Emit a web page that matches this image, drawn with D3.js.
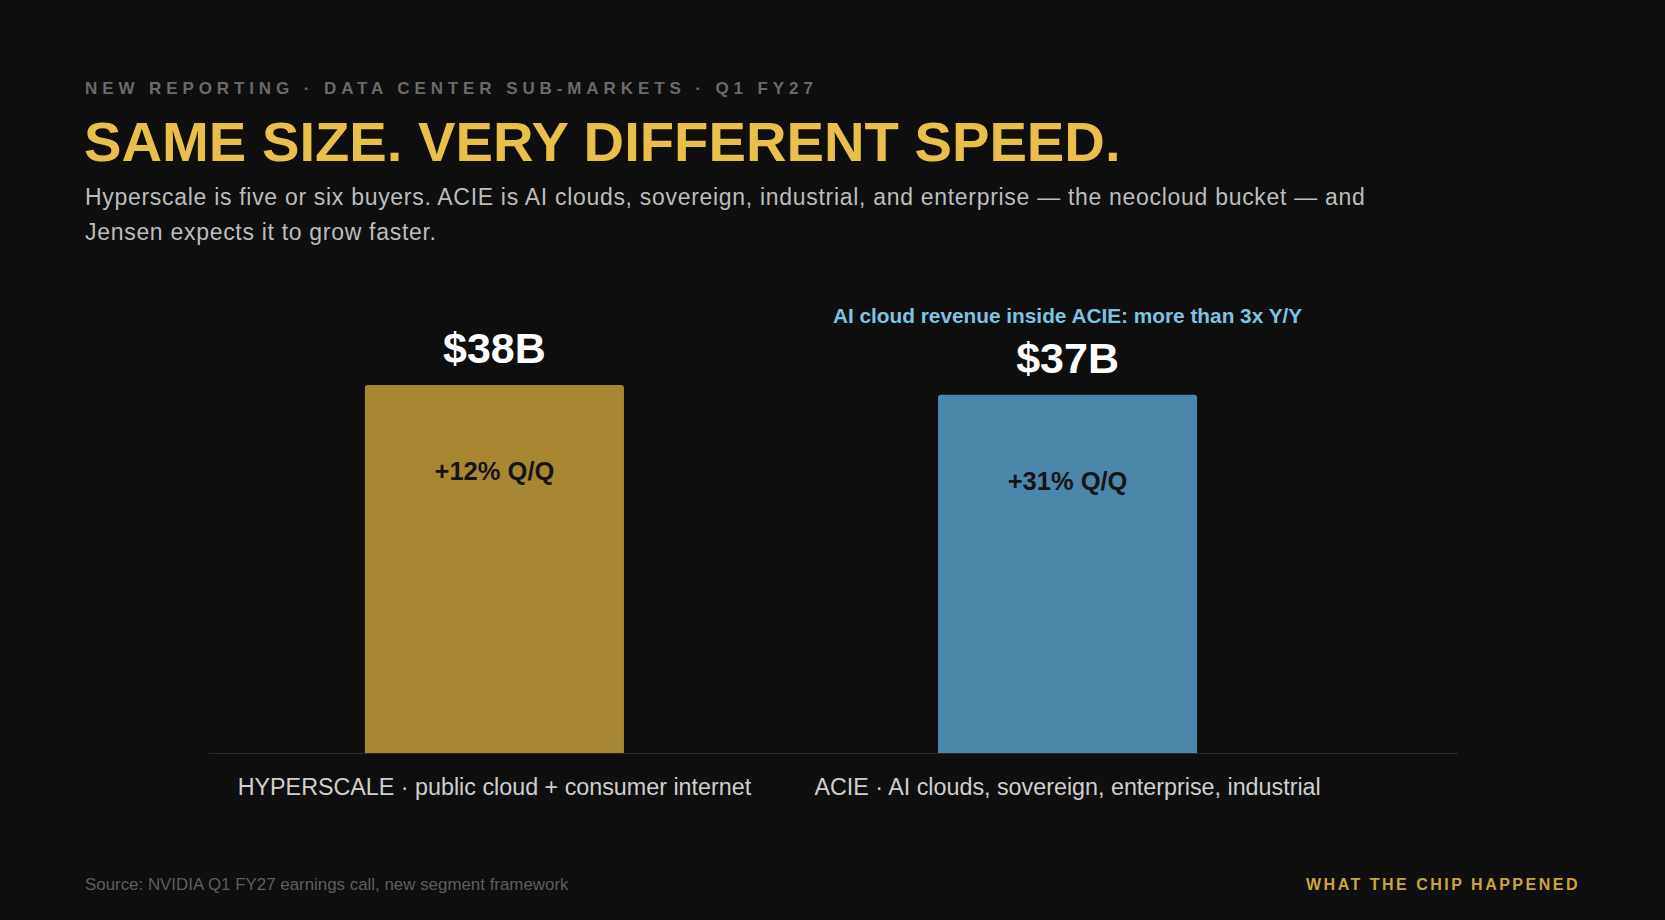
<!DOCTYPE html><html><head><meta charset="utf-8"><script src="https://cdn.jsdelivr.net/npm/d3@7"></script>
<style>body{margin:0;background:#0e0e0e}svg{display:block}text{font-family:"Liberation Sans",Arial,sans-serif}</style></head><body><svg width="1665" height="920"></svg>
<script>
const categories=["HYPERSCALE · public cloud + consumer internet","ACIE · AI clouds, sovereign, enterprise, industrial"];
const values=[38,37];
const valueLabels=["$38B","$37B"];
const growth=["+12% Q/Q","+31% Q/Q"];
const colors=["#a88732","#4a87aa"];
const svg=d3.select("svg");
svg.append("rect").attr("width",1665).attr("height",920).attr("fill","#0e0e0e");
const x=d3.scaleBand().domain(categories).range([209,1353]).paddingInner(0.548).paddingOuter(0.272);
const y=d3.scaleLinear().domain([0,38]).range([753,385]);
svg.append("text").attr("x",85).attr("y",94).attr("fill","#6a6a6a").attr("font-size",17).attr("font-weight","bold").attr("letter-spacing",4.9).text("NEW REPORTING · DATA CENTER SUB-MARKETS · Q1 FY27");
svg.append("text").attr("x",84).attr("y",161).attr("fill","#e8bf4a").attr("font-size",56.2).attr("font-weight","bold").text("SAME SIZE. VERY DIFFERENT SPEED.");
svg.append("text").attr("x",85).attr("y",205).attr("fill","#bdbdbd").attr("font-size",23).attr("letter-spacing",0.7).text("Hyperscale is five or six buyers. ACIE is AI clouds, sovereign, industrial, and enterprise — the neocloud bucket — and");
svg.append("text").attr("x",85).attr("y",240).attr("fill","#bdbdbd").attr("font-size",23).attr("letter-spacing",0.7).text("Jensen expects it to grow faster.");
svg.append("line").attr("x1",209).attr("x2",1458).attr("y1",753.5).attr("y2",753.5).attr("stroke","#2a2a2a");
const g=svg.selectAll(".b").data(categories).enter().append("g");
g.append("path").attr("fill",(d,i)=>colors[i]).attr("d",(d,i)=>{const x0=x(d),w=x.bandwidth(),t=y(values[i]),b=y(0),r=3;return `M${x0},${b}V${t+r}Q${x0},${t} ${x0+r},${t}H${x0+w-r}Q${x0+w},${t} ${x0+w},${t+r}V${b}Z`;});
g.append("text").attr("x",d=>x(d)+x.bandwidth()/2).attr("y",(d,i)=>y(values[i])-22).attr("text-anchor","middle").attr("fill","#fff").attr("font-size",43).attr("font-weight","bold").text((d,i)=>valueLabels[i]);
g.append("text").attr("x",d=>x(d)+x.bandwidth()/2).attr("y",(d,i)=>y(values[i])+95).attr("text-anchor","middle").attr("fill","#151515").attr("font-size",25.5).attr("font-weight","bold").text((d,i)=>growth[i]);
g.append("text").attr("x",d=>x(d)+x.bandwidth()/2).attr("y",795).attr("text-anchor","middle").attr("fill","#cfcfcf").attr("font-size",23.3).text(d=>d);
svg.append("text").attr("x",x(categories[1])+x.bandwidth()/2).attr("y",323).attr("text-anchor","middle").attr("fill","#7ec3e0").attr("font-size",20.8).attr("font-weight","bold").text("AI cloud revenue inside ACIE: more than 3x Y/Y");
svg.append("text").attr("x",85).attr("y",890).attr("fill","#5e5e5e").attr("font-size",16.9).text("Source: NVIDIA Q1 FY27 earnings call, new segment framework");
svg.append("text").attr("x",1580).attr("y",890).attr("text-anchor","end").attr("fill","#c9a63a").attr("font-size",16).attr("font-weight","bold").attr("letter-spacing",2.5).text("WHAT THE CHIP HAPPENED");
</script></body></html>
